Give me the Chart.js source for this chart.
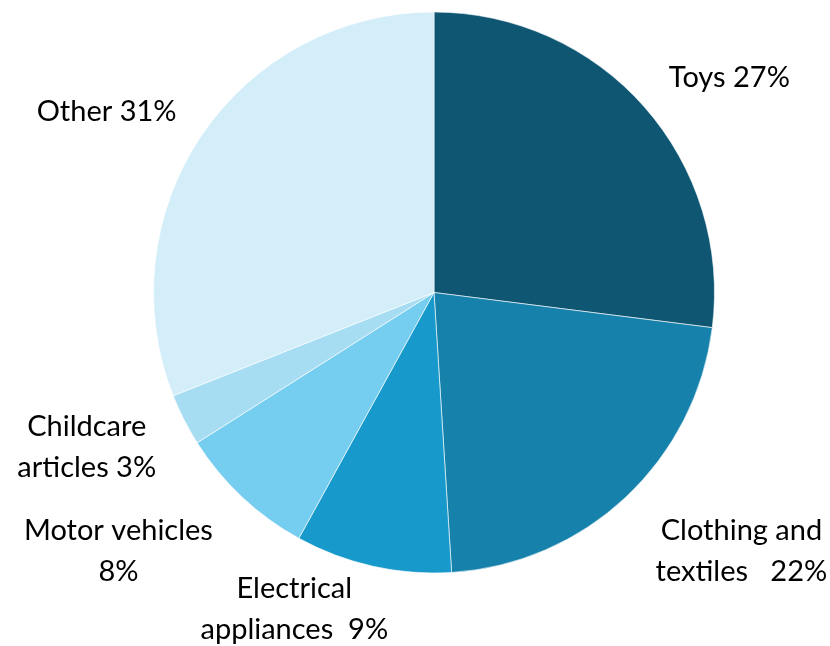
<!DOCTYPE html>
<html>
<head>
<meta charset="utf-8">
<script src="https://cdn.jsdelivr.net/npm/chart.js@4"></script>
<style>
  html, body { margin: 0; padding: 0; background: #fff; }
  #wrap { width: 830px; height: 646px; }
</style>
</head>
<body>
<div id="wrap"><canvas id="pieChart" width="830" height="646"></canvas></div>
<script>
// Product categories and their shares (%)
const categories = ["Toys", "Clothing and textiles", "Electrical appliances", "Motor vehicles", "Childcare articles", "Other"];
const shares = [27, 22, 9, 8, 3, 31];
const sliceColors = ["#0f5672", "#1681ab", "#1899cb", "#75cdef", "#a6ddf3", "#d3eef9"];

// label text lines; the value is appended from shares
const labelLines = [
  ["Toys {v}%"],
  ["Clothing and", "textiles   {v}%"],
  ["Electrical", "appliances  {v}%"],
  ["Motor vehicles", "{v}%"],
  ["Childcare", "articles {v}%"],
  ["Other {v}%"]
];
// label centres relative to pie centre, in units of the radius
const labelOffsets = [
  [1.053, -0.765],
  [1.096, 0.923],
  [-0.498, 1.130],
  [-1.125, 0.922],
  [-1.238, 0.553],
  [-1.167, -0.644]
];

const outsideLabels = {
  id: "outsideLabels",
  afterDraw(chart) {
    const ctx = chart.ctx;
    const arc = chart.getDatasetMeta(0).data[0];
    const cx = arc.x, cy = arc.y, r = arc.outerRadius;
    const lineH = 41;
    ctx.save();
    ctx.font = "29px Lato, 'Open Sans', sans-serif";
    ctx.fillStyle = "#000";
    ctx.textAlign = "center";
    ctx.textBaseline = "middle";
    labelLines.forEach((lines, i) => {
      const x = cx + labelOffsets[i][0] * r;
      const y0 = cy + labelOffsets[i][1] * r - (lines.length - 1) * lineH / 2;
      lines.forEach((t, j) => {
        ctx.fillText(t.replace("{v}", shares[i]), x, y0 + j * lineH);
      });
    });
    ctx.restore();
  }
};

new Chart(document.getElementById("pieChart").getContext("2d"), {
  type: "pie",
  data: {
    labels: categories,
    datasets: [{
      data: shares,
      backgroundColor: sliceColors,
      borderColor: "rgba(255,255,255,0.6)",
      borderWidth: 1
    }]
  },
  options: {
    responsive: false,
    animation: false,
    layout: { padding: { top: 11, bottom: 72, left: 153, right: 115 } },
    plugins: {
      legend: { display: false },
      tooltip: { enabled: false }
    }
  },
  plugins: [outsideLabels]
});
</script>
</body>
</html>
